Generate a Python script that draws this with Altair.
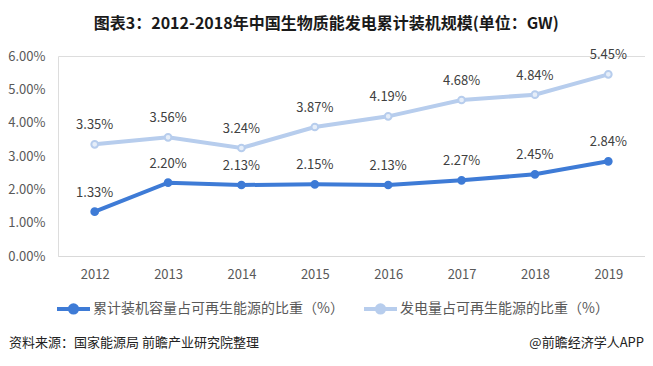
import altair as alt
import pandas as pd

years = ["2012", "2013", "2014", "2015", "2016", "2017", "2018", "2019"]
capacity_share = [1.33, 2.20, 2.13, 2.15, 2.13, 2.27, 2.45, 2.84]
generation_share = [3.35, 3.56, 3.24, 3.87, 4.19, 4.68, 4.84, 5.45]
series_names = ["累计装机容量占可再生能源的比重（%）", "发电量占可再生能源的比重（%）"]
series_colors = ["#3E7BD6", "#B7CDED"]
point_fills = ["#3E7BD6", "#E6EEF9"]
y_ticks = [0, 1, 2, 3, 4, 5, 6]
title_text = "图表3：2012-2018年中国生物质能发电累计装机规模(单位：GW)"
source_text = "资料来源：国家能源局 前瞻产业研究院整理"
brand_text = "@前瞻经济学人APP"

FONT = "Noto Sans CJK SC"

rows = []
for name, vals in zip(series_names, [capacity_share, generation_share]):
    for y, v in zip(years, vals):
        rows.append({"year": y, "series": name, "value": v / 100.0})
df = pd.DataFrame(rows)

x_enc = alt.X("year:O", title=None, sort=years,
              scale=alt.Scale(type="point", padding=0.5),
              axis=alt.Axis(labelAngle=0, domain=True, domainColor="#D9D9D9",
                            ticks=False, grid=False, labelPadding=12,
                            labelFontSize=13, labelColor="#595959", labelFont=FONT))
y_enc = alt.Y("value:Q", title=None,
              scale=alt.Scale(domain=[0, 0.06], nice=False, zero=True),
              axis=alt.Axis(values=[t / 100 for t in y_ticks], format=".2%",
                            domain=False, ticks=False, grid=False, labelPadding=13,
                            labelFontSize=13, labelColor="#595959", labelFont=FONT))
color_enc = alt.Color("series:N", sort=series_names,
                      scale=alt.Scale(domain=series_names, range=series_colors),
                      legend=alt.Legend(title=None, orient="none", direction="horizontal",
                                        legendX=-3, legendY=234,
                                        symbolType="M -1 0 L 1 0 M 0.22 0 A 0.22 0.22 0 1 1 -0.22 0 A 0.22 0.22 0 1 1 0.22 0 Z",
                                        symbolSize=1089, symbolStrokeWidth=4,
                                        labelFontSize=14, labelColor="#595959", labelFont=FONT,
                                        labelLimit=400, columnPadding=12, labelOffset=1))

base = alt.Chart(df)

lines = base.mark_line(strokeWidth=4).encode(x=x_enc, y=y_enc, color=color_enc)
points = base.mark_point(size=45, strokeWidth=2, opacity=1).encode(
    x=x_enc, y=y_enc, color=color_enc,
    fill=alt.Fill("series:N", scale=alt.Scale(domain=series_names, range=point_fills), legend=None))
labels = base.mark_text(dy=-19, fontSize=13, color="#404040", font=FONT).encode(
    x=x_enc, y=y_enc, text=alt.Text("value:Q", format=".2%"))

src = alt.Chart(pd.DataFrame({"t": [source_text]})).mark_text(
    align="left", baseline="middle", fontSize=13, color="#222222", font=FONT
).encode(text="t:N", x=alt.value(-49), y=alt.value(287))
brand = alt.Chart(pd.DataFrame({"t": [brand_text]})).mark_text(
    align="right", baseline="middle", fontSize=13, color="#222222", font=FONT
).encode(text="t:N", x=alt.value(586), y=alt.value(287))

chart = alt.layer(lines, points, labels, src, brand).properties(
    width=587, height=200,
    title=alt.TitleParams(title_text, fontSize=16, fontWeight="bold", font=FONT,
                          anchor="start", dx=86, offset=17, color="#1A1A1A"),
    autosize=alt.AutoSizeParams(type="none"),
    padding={"left": 50, "top": 48, "right": 0, "bottom": 102},
).configure_view(stroke=None).configure(background="white")

chart.save("out.html", embed_options={"renderer": "svg", "actions": False})
